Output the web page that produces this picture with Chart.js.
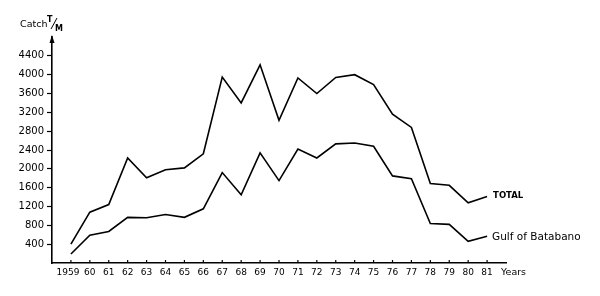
<!DOCTYPE html>
<html>
<head>
<meta charset="utf-8">
<script src="https://cdn.jsdelivr.net/npm/chart.js@4"></script>
<style>
  body { margin: 0; background: #fff; }
  #wrap { width: 600px; height: 296px; }
</style>
</head>
<body>
<div id="wrap"><canvas id="catchChart" width="600" height="296"></canvas></div>
<script>
// years and catch (T/M)
const years = [1959, 1960, 1961, 1962, 1963, 1964, 1965, 1966, 1967, 1968, 1969, 1970,
  1971, 1972, 1973, 1974, 1975, 1976, 1977, 1978, 1979, 1980, 1981];
const total = [400, 1080, 1240, 2230, 1810, 1980, 2020, 2320, 3950, 3400, 4210, 3030,
  3930, 3600, 3940, 4000, 3790, 3160, 2880, 1690, 1650, 1280, 1410];
const gulf = [190, 590, 670, 970, 960, 1030, 970, 1150, 1920, 1450, 2340, 1750,
  2420, 2230, 2530, 2550, 2480, 1850, 1790, 840, 820, 460, 570];
const yTicks = [400, 800, 1200, 1600, 2000, 2400, 2800, 3200, 3600, 4000, 4400];
const seriesNames = ['TOTAL', 'Gulf of Batabano'];

const FONT = 'DejaVu Sans';

// extra drawing: arrow, axis titles, tick marks on x, line labels
const decor = {
  id: 'decor',
  afterDraw(chart) {
    const c = chart.ctx;
    const x = chart.scales.x, y = chart.scales.y;
    const area = chart.chartArea;
    c.save();
    c.fillStyle = '#000';
    c.strokeStyle = '#000';
    c.lineWidth = 1.2;

    // x tick marks pointing up
    years.forEach(v => {
      const px = x.getPixelForValue(v);
      c.beginPath();
      c.moveTo(px, area.bottom);
      c.lineTo(px, area.bottom - 3);
      c.stroke();
    });

    // arrow on top of y axis
    c.beginPath();
    c.moveTo(area.left, area.top - 2);
    c.lineTo(area.left - 2.5, area.top + 6);
    c.lineTo(area.left + 2.5, area.top + 6);
    c.closePath();
    c.fill();

    // Catch T/M
    c.font = '9.5px ' + FONT;
    c.textBaseline = 'middle';
    c.textAlign = 'left';
    c.fillText('Catch', 20, 25);
    c.font = 'bold 8px ' + FONT;
    c.fillText('T', 47, 20);
    c.fillText('M', 55, 29);
    c.beginPath();
    c.lineWidth = 1;
    c.moveTo(51, 29);
    c.lineTo(57, 18);
    c.stroke();

    // Years
    c.font = '9.5px ' + FONT;
    c.fillText('Years', 501, 273);

    // series labels at the end of each line
    c.font = 'bold 8.5px ' + FONT;
    const lastX = x.getPixelForValue(years[years.length - 1]);
    c.fillText(seriesNames[0], lastX + 6, y.getPixelForValue(total[total.length - 1]) - 1);
    c.font = '10.5px ' + FONT;
    c.fillText(seriesNames[1], lastX + 5, y.getPixelForValue(gulf[gulf.length - 1]) + 1);
    c.restore();
  }
};

const ctx = document.getElementById('catchChart').getContext('2d');
const catchChart = new Chart(ctx, {
  type: 'line',
  data: {
    datasets: [
      {
        label: seriesNames[0],
        data: years.map((yr, i) => ({ x: yr, y: total[i] })),
        borderColor: '#000',
        borderWidth: 1.6,
        pointRadius: 0,
        tension: 0
      },
      {
        label: seriesNames[1],
        data: years.map((yr, i) => ({ x: yr, y: gulf[i] })),
        borderColor: '#000',
        borderWidth: 1.6,
        pointRadius: 0,
        tension: 0
      }
    ]
  },
  options: {
    responsive: false,
    animation: false,
    layout: { padding: { top: 37, right: 94, left: 0, bottom: 0 } },
    plugins: { legend: { display: false }, tooltip: { enabled: false } },
    scales: {
      x: {
        type: 'linear',
        min: 1958,
        max: 1982,
        afterFit: s => { s.height = 33; },
        afterBuildTicks: s => { s.ticks = years.map(v => ({ value: v })); },
        ticks: {
          autoSkip: false,
          maxRotation: 0,
          padding: 4,
          color: '#000',
          font: { family: FONT, size: 9 },
          callback: v => v === 1959 ? '1959  ' : String(v).slice(2)
        },
        grid: { display: true, drawOnChartArea: false, drawTicks: false },
        border: { color: '#000', width: 1.6 }
      },
      y: {
        min: 0,
        max: 4800,
        afterFit: s => { s.width = 52; },
        afterBuildTicks: s => { s.ticks = yTicks.map(v => ({ value: v })); },
        ticks: {
          padding: 3,
          color: '#000',
          font: { family: FONT, size: 10 },
          callback: v => String(v)
        },
        grid: { drawOnChartArea: false, tickLength: 5, tickColor: '#000', tickWidth: 1.2 },
        border: { color: '#000', width: 1.6 }
      }
    }
  },
  plugins: [decor]
});
</script>
</body>
</html>
